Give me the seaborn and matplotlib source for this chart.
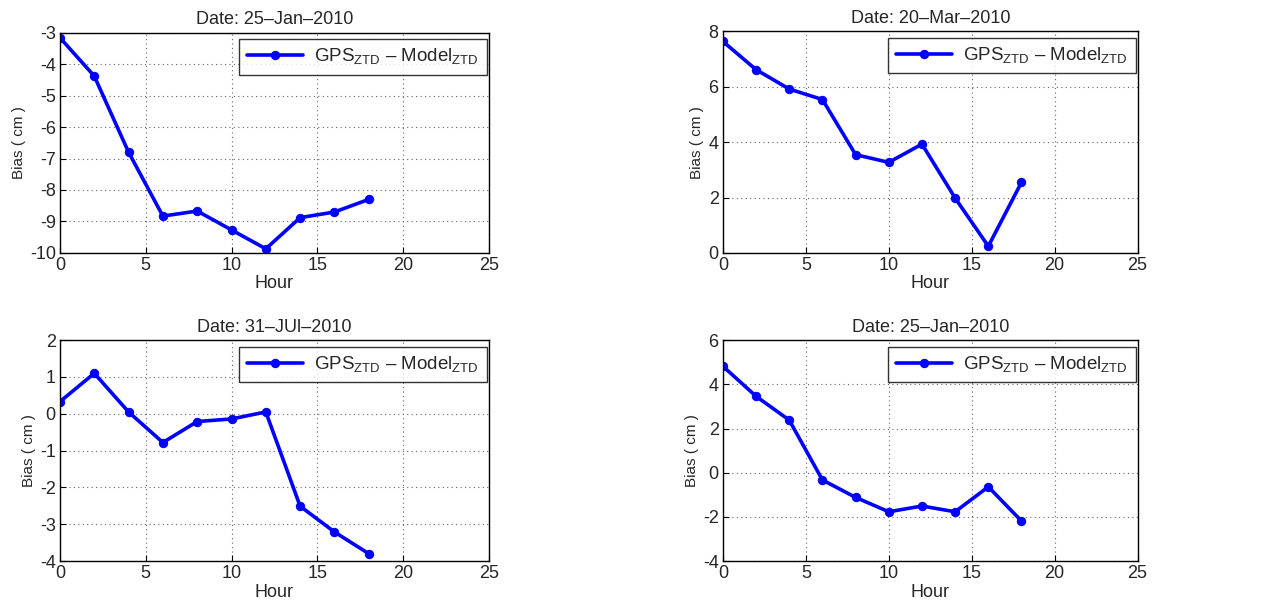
import matplotlib
matplotlib.use('Agg')
import matplotlib.pyplot as plt
import seaborn as sns
import pandas as pd

# data
hours = [0, 2, 4, 6, 8, 10, 12, 14, 16, 18]
bias_jan = [-3.16, -4.38, -6.80, -8.83, -8.67, -9.27, -9.87, -8.88, -8.70, -8.30]
bias_mar = [7.64, 6.62, 5.92, 5.54, 3.55, 3.27, 3.93, 1.98, 0.24, 2.55]
bias_jul = [0.33, 1.10, 0.05, -0.78, -0.21, -0.14, 0.05, -2.51, -3.21, -3.80]
bias_jan2 = [4.82, 3.46, 2.38, -0.33, -1.12, -1.77, -1.51, -1.77, -0.64, -2.19]

titles = ['Date: 25\u2013Jan\u20132010', 'Date: 20\u2013Mar\u20132010',
          'Date: 31\u2013JUl\u20132010', 'Date: 25\u2013Jan\u20132010']
ylims = [(-10, -3), (0, 8), (-4, 2), (-4, 6)]
ysteps = [1, 2, 1, 2]
series = [bias_jan, bias_mar, bias_jul, bias_jan2]

sns.set_style('ticks')
plt.rcParams['font.family'] = ['Liberation Sans', 'DejaVu Sans']
plt.rcParams['axes.unicode_minus'] = False
plt.rcParams['mathtext.fontset'] = 'custom'
plt.rcParams['mathtext.rm'] = 'Liberation Sans'

label = 'GPS$_{\\mathrm{ZTD}}$ \u2013 Model$_{\\mathrm{ZTD}}$'

fig = plt.figure(figsize=(12.84, 6.05), dpi=100)
positions = [
    [0.0467, 0.582, 0.334, 0.364],
    [0.563, 0.582, 0.323, 0.366],
    [0.0467, 0.0727, 0.334, 0.365],
    [0.563, 0.0727, 0.323, 0.365],
]

for pos, vals, title, (lo, hi), step in zip(positions, series, titles, ylims, ysteps):
    ax = fig.add_axes(pos)
    df = pd.DataFrame({'Hour': hours, 'Bias': vals})
    sns.lineplot(data=df, x='Hour', y='Bias', ax=ax, color='#0000ff', lw=2.6,
                 marker='o', markersize=6, markeredgecolor='#0000ff', label=label)
    ax.set_xlim(0, 25)
    ax.set_ylim(lo, hi)
    ax.set_xticks(range(0, 26, 5))
    ax.set_yticks(range(lo, hi + 1, step))
    ax.grid(True, linestyle=(0, (1, 3)), color='#666666', lw=0.8)
    ax.tick_params(direction='in', length=4, labelsize=13, color='black', pad=3)
    for s in ax.spines.values():
        s.set_visible(True)
        s.set_color('black')
        s.set_linewidth(1.0)
    ax.set_title(title, fontsize=13, pad=6)
    ax.set_xlabel('Hour', fontsize=13, labelpad=1)
    ax.set_ylabel('Bias ( cm )', fontsize=11, labelpad=3)
    leg = ax.legend(loc='upper right', bbox_to_anchor=(0.995, 0.97), borderaxespad=0,
                    fontsize=13.5, frameon=True, fancybox=False, handlelength=3.0,
                    borderpad=0.4, handletextpad=0.6)
    leg.get_frame().set_edgecolor('black')
    leg.get_frame().set_linewidth(1.0)

fig.savefig('out.png', dpi=100)
